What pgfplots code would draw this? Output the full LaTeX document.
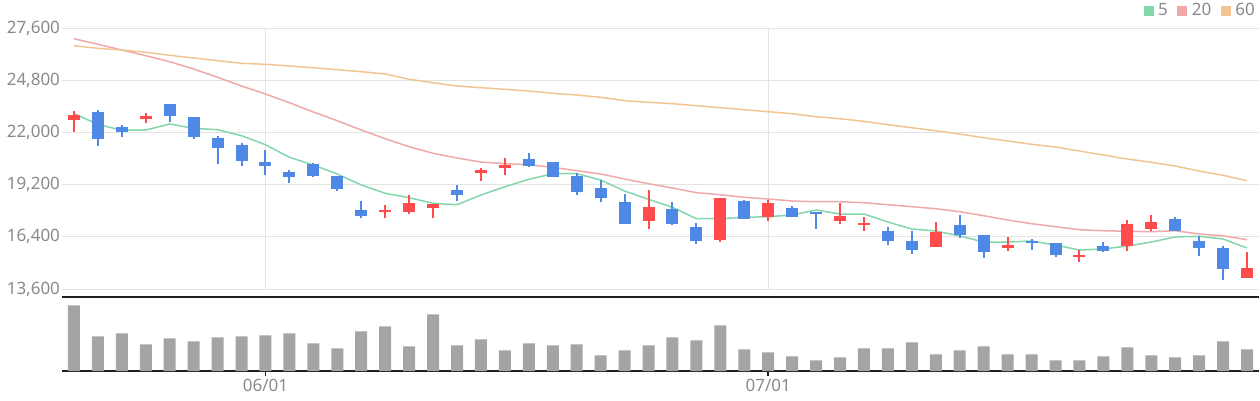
\documentclass[border=0pt]{standalone}
\usepackage{fontspec}
\setmainfont{Noto Sans}
\usepackage{pgfplots}
\usepackage{pgfplotstable}
\pgfplotsset{compat=1.18}
\definecolor{cup}{HTML}{FF4B4B}
\definecolor{cdn}{HTML}{5088E6}
\definecolor{cfive}{HTML}{82D7AB}
\definecolor{ctwenty}{HTML}{F0A8A8}
\definecolor{csixty}{HTML}{F2C494}
\definecolor{cvol}{HTML}{A4A4A4}
\definecolor{cgrid}{HTML}{E3E3E3}
\definecolor{ctxt}{HTML}{8A8A8A}

\pgfplotstableread{
x o h l c
0 22681 23148 22021 22933
3 22735 23041 22520 22896
13 17730 18090 17408 17838
14 17730 18642 17623 18213
15 17945 18159 17408 18159
17 19838 20090 19393 19983
18 20106 20627 19715 20267
24 17247 18910 16818 17998
27 16228 18481 16121 18481
29 17462 18374 17247 18213
32 17247 18213 17087 17516
33 17033 17462 16711 17140
36 15853 17194 15853 16657
39 15799 16389 15638 15960
42 15316 15692 15048 15424
44 15906 17301 15638 17087
45 16818 17569 16711 17194
49 14190 15585 14190 14726
}\up

\pgfplotstableread{
x o h l c
1 23094 23202 21287 21662
2 22290 22397 21769 22038
4 23523 23523 22558 22896
5 22826 22826 21662 21769
6 21700 21807 20305 21179
7 21324 21431 20214 20466
8 20412 21056 19731 20214
9 19876 19983 19302 19624
10 20305 20343 19624 19677
11 19661 19661 18873 18980
12 17838 18320 17424 17532
16 18910 19179 18320 18642
19 20573 20895 20144 20198
20 20412 20412 19608 19608
21 19661 19822 18642 18803
22 19018 19447 18267 18481
23 18267 18696 17087 17087
25 17891 18267 17033 17087
26 16926 17140 16014 16175
28 18320 18374 17355 17355
30 17945 18052 17462 17462
31 17730 17730 16818 17623
34 16711 16926 15960 16175
35 16175 16711 15477 15692
37 17033 17569 16336 16497
38 16497 16497 15263 15585
40 16175 16282 15692 16083
41 16067 16067 15316 15424
43 15906 16121 15585 15638
46 17355 17462 16711 16711
47 16175 16443 15370 15799
48 15799 15906 14083 14673
}\dn

\pgfplotstableread{
x m5 m20 m60
0 23003 27026 26651
1 22434 26726 26511
2 22113 26420 26420
3 22129 26114 26297
4 22451 25792 26136
5 22220 25401 25991
6 22145 24956 25846
7 21823 24489 25707
8 21340 24060 25653
9 20664 23593 25562
10 20251 23094 25470
11 19769 22628 25363
12 19179 22129 25256
13 18733 21662 25133
14 18497 21233 24848
15 18197 20879 24666
16 18122 20627 24489
17 18642 20412 24398
18 19087 20321 24312
19 19484 20267 24221
20 19785 20128 24097
21 19785 19946 24006
22 19447 19769 23883
23 18857 19500 23700
24 18411 19248 23615
25 17982 19018 23539
26 17371 18766 23432
27 17371 18658 23325
28 17446 18519 23218
29 17478 18428 23110
30 17569 18320 23003
31 17838 18283 22842
32 17623 18283 22735
33 17623 18229 22595
34 17194 18122 22413
35 16818 18015 22252
36 16711 17907 22091
37 16443 17746 21914
38 16121 17532 21716
39 16121 17301 21539
40 16175 17103 21362
41 15960 16942 21217
42 15692 16781 21002
43 15746 16727 20788
44 15906 16695 20573
45 16121 16673 20396
46 16389 16727 20198
47 16427 16550 19929
48 16282 16459 19699
49 15799 16244 19409
}\ma

\pgfplotstableread{
x v
0 65.7
1 34.7
2 37.7
3 26.7
4 32.7
5 29.7
6 33.7
7 34.7
8 35.7
9 37.7
10 27.7
11 22.7
12 39.7
13 44.7
14 24.7
15 56.7
16 25.7
17 31.7
18 20.7
19 27.7
20 25.7
21 26.7
22 15.7
23 20.7
24 25.7
25 33.7
26 30.7
27 45.7
28 21.7
29 18.7
30 14.7
31 10.7
32 13.7
33 22.7
34 22.7
35 28.7
36 16.7
37 20.7
38 24.7
39 16.7
40 16.7
41 10.7
42 10.7
43 14.7
44 23.7
45 15.7
46 13.7
47 15.7
48 29.7
49 21.7
}\vol

\begin{document}
\begin{tikzpicture}
\path[use as bounding box] (0pt,0pt) rectangle (1260pt,-400pt);
\begin{axis}[
  at={(62pt,-28pt)}, anchor=north west,
  scale only axis, width=1197pt, height=261pt,
  xmin=-0.5, xmax=49.5, ymin=13600, ymax=27600,
  axis line style={draw=none},
  xtick={8,29}, xticklabels={},
  ytick={13600,16400,19200,22000,24800,27600},
  yticklabels={{13,600},{16,400},{19,200},{22,000},{24,800},{27,600}},
  scaled y ticks=false,
  major tick length=0pt,
  xmajorgrids, ymajorgrids,
  grid style={cgrid, line width=1pt},
  yticklabel style={font=\fontsize{17}{20}\selectfont, text=ctxt, xshift=1.5pt},
  legend style={at={(1,1)}, anchor=east, yshift=17.5pt, xshift=-3.5pt,
    draw=none, fill=none, inner sep=0pt,
    font=\fontsize{17}{20}\selectfont, text=ctxt,
    nodes={inner sep=0.5pt},
    /tikz/every odd column/.append style={column sep=4pt},
    /tikz/every even column/.append style={column sep=9pt}},
  legend columns=-1,
  legend image code/.code={\fill[#1, draw=none] (0pt,-5pt) rectangle (10pt,5pt);},
]
\addplot[color=cfive, line width=1.5pt] table[x=x, y=m5] {\ma};
\addlegendentry{5}
\addplot[color=ctwenty, line width=1.5pt] table[x=x, y=m20] {\ma};
\addlegendentry{20}
\addplot[color=csixty, line width=1.5pt] table[x=x, y=m60] {\ma};
\addlegendentry{60}

\addplot[forget plot, draw=none, mark=none,
  error bars/.cd, y dir=both, y explicit, error mark=none,
  error bar style={draw=cup, line width=2pt}]
  table[x=x, y expr=(\thisrow{h}+\thisrow{l})/2, y error expr=(\thisrow{h}-\thisrow{l})/2] {\up};
\addplot[forget plot, draw=none, mark=none,
  error bars/.cd, y dir=both, y explicit, error mark=none,
  error bar style={draw=cup, line width=12pt}]
  table[x=x, y expr=(\thisrow{o}+\thisrow{c})/2, y error expr=abs(\thisrow{c}-\thisrow{o})/2] {\up};
\addplot[forget plot, draw=none, mark=none,
  error bars/.cd, y dir=both, y explicit, error mark=none,
  error bar style={draw=cdn, line width=2pt}]
  table[x=x, y expr=(\thisrow{h}+\thisrow{l})/2, y error expr=(\thisrow{h}-\thisrow{l})/2] {\dn};
\addplot[forget plot, draw=none, mark=none,
  error bars/.cd, y dir=both, y explicit, error mark=none,
  error bar style={draw=cdn, line width=12pt}]
  table[x=x, y expr=(\thisrow{o}+\thisrow{c})/2, y error expr=abs(\thisrow{c}-\thisrow{o})/2] {\dn};
\end{axis}

\begin{axis}[
  at={(62pt,-297pt)}, anchor=north west,
  scale only axis, width=1197pt, height=74pt,
  xmin=-0.5, xmax=49.5, ymin=0, ymax=74,
  axis x line=box, axis y line=none,
  x axis line style={line width=2.3pt, color=black!88, -},
  ytick=\empty,
  xtick={8,29}, xticklabels={06/01,07/01},
  xtick pos=left,
  tick align=outside, major tick length=5pt,
  tick style={line width=1.6pt, color=black!88},
  xticklabel style={font=\fontsize{17}{20}\selectfont, text=ctxt},
]
\addplot[ybar, bar width=12pt, fill=cvol, draw=none] table[x=x, y=v] {\vol};
\end{axis}
\end{tikzpicture}
\end{document}
